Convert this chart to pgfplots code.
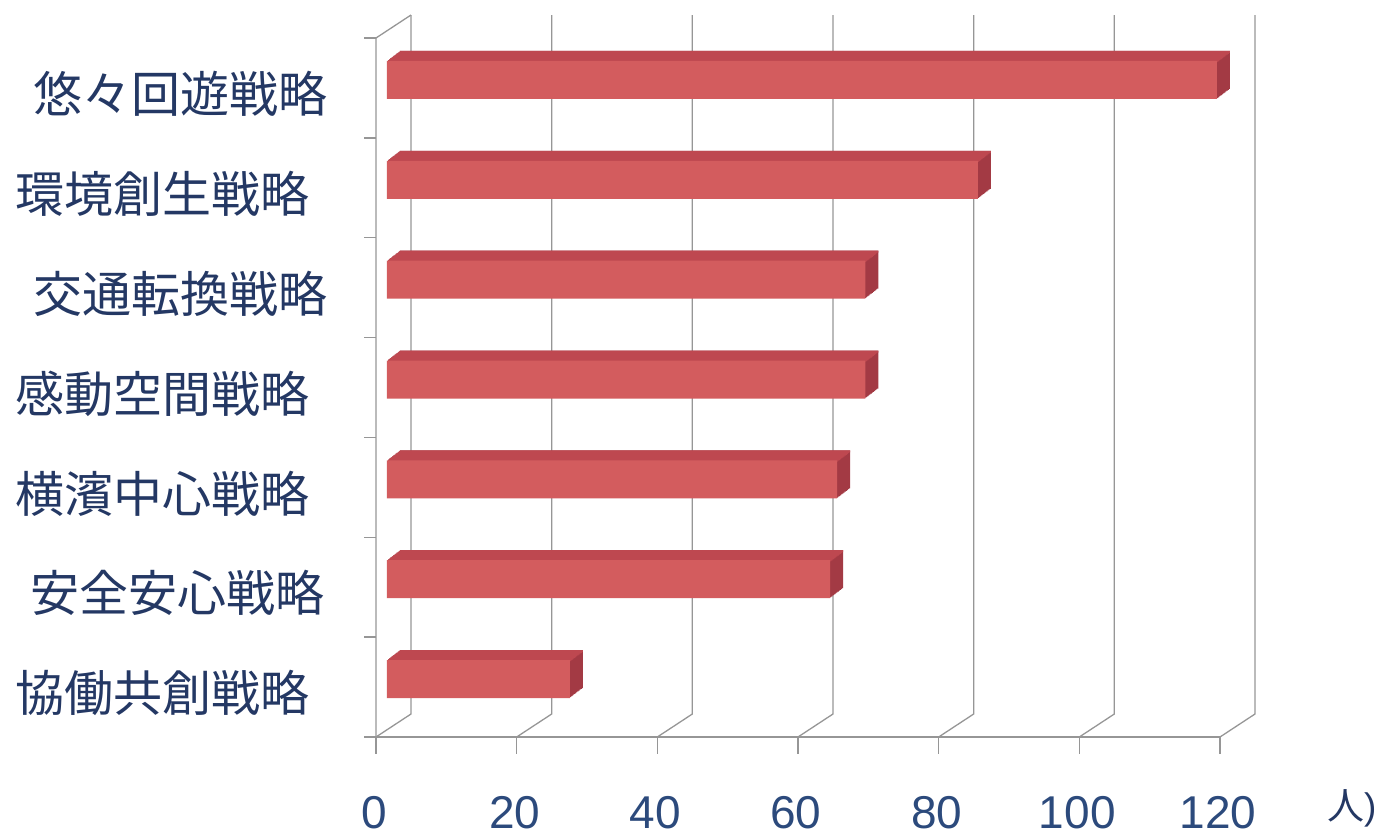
\documentclass[border=0pt]{standalone}
\usepackage{pgfplots}
\pgfplotsset{compat=1.18}
\usepackage{pgfplotstable}
\usepackage{fontspec}
\setmainfont{Liberation Sans}
\newfontfamily\jp{Noto Sans CJK JP}

\definecolor{barfront}{RGB}{211,92,94}
\definecolor{bartop}{RGB}{190,72,80}
\definecolor{barside}{RGB}{163,58,68}
\definecolor{gridcol}{RGB}{150,150,150}
\definecolor{labcol}{RGB}{36,56,100}
\definecolor{numcol}{RGB}{44,74,124}

% people per strategy (top to bottom)
\pgfplotstableread{
pos val
1 118
2 84
3 68
4 68
5 64
6 63
7 26
}\strat

\begin{document}
\begin{tikzpicture}
\path[use as bounding box] (0,0) rectangle (1385pt,837pt);
\begin{axis}[
    at={(387pt,108pt)}, anchor=south west,
    width=844pt, height=699pt, scale only axis,
    xmin=0, xmax=120, ymin=0.5, ymax=7.5,
    y dir=reverse,
    clip=false,
    axis line style={draw=none},
    tick style={draw=none},
    xtick={0,20,...,120},
    ytick={1,...,7},
    yticklabels={{\hspace*{18pt}悠々回遊戦略},環境創生戦略,{\hspace*{18pt}交通転換戦略},感動空間戦略,横濱中心戦略,{\hspace*{15pt}安全安心戦略},協働共創戦略},
    yticklabel style={font=\jp\fontsize{49}{50}\selectfont, text=labcol,
        anchor=west, inner sep=0pt, xshift=-372pt, yshift=-14pt},
    xticklabel style={font=\fontsize{46}{47}\selectfont, text=numcol,
        anchor=center, inner sep=0pt, xshift=-13pt, yshift=-84pt},
    /pgf/number format/assume math mode=true,
    mybar/.style={xbar, bar width=#1, bar shift=0pt, draw=none},
]
% 3D frame: front plane shifted (-11,-8), back plane (24,15)
\draw[gridcol, line width=1.3pt]
    ([shift={(-11pt,-8pt)}]axis cs:0,7.5) -- ([shift={(-11pt,-8pt)}]axis cs:120,7.5);
\draw[gridcol, line width=1.3pt]
    ([shift={(-11pt,-8pt)}]axis cs:0,7.5) -- ([shift={(-11pt,-8pt)}]axis cs:0,0.5)
    -- ([shift={(24pt,15pt)}]axis cs:0,0.5);
\pgfplotsinvokeforeach{0,20,...,120}{
  \draw[gridcol, line width=1.3pt]
    ([shift={(-11pt,-8pt)}]axis cs:#1,7.5) -- ([shift={(24pt,15pt)}]axis cs:#1,7.5)
    -- ([shift={(24pt,15pt)}]axis cs:#1,0.5);
  \draw[gridcol, line width=1.3pt]
    ([shift={(-11pt,-8pt)}]axis cs:#1,7.5) -- ([shift={(-11pt,-25pt)}]axis cs:#1,7.5);
}
\pgfplotsinvokeforeach{0.5,1.5,...,7.5}{
  \draw[gridcol, line width=1.3pt]
    ([shift={(-11pt,-8pt)}]axis cs:0,#1) -- ([shift={(-23pt,-8pt)}]axis cs:0,#1);
}
% side faces
\pgfplotsinvokeforeach{1,...,12}{
  \addplot[mybar=38pt, fill=barside, xshift={#1*1.0833pt}, yshift={#1*0.8333pt}]
    table[x=val, y=pos] {\strat};
}
% top faces
\pgfplotsinvokeforeach{1,...,12}{
  \addplot[mybar=2pt, fill=bartop, xshift={#1*1.0833pt}, yshift={18pt+#1*0.8333pt}]
    table[x=val, y=pos] {\strat};
}
% front faces
\addplot[mybar=38pt, fill=barfront] table[x=val, y=pos] {\strat};
\end{axis}
\node[anchor=west, inner sep=0pt, text=labcol, font=\fontsize{37}{38}\selectfont]
    at (1327pt,29pt) {{\jp 人})};
\end{tikzpicture}
\end{document}
